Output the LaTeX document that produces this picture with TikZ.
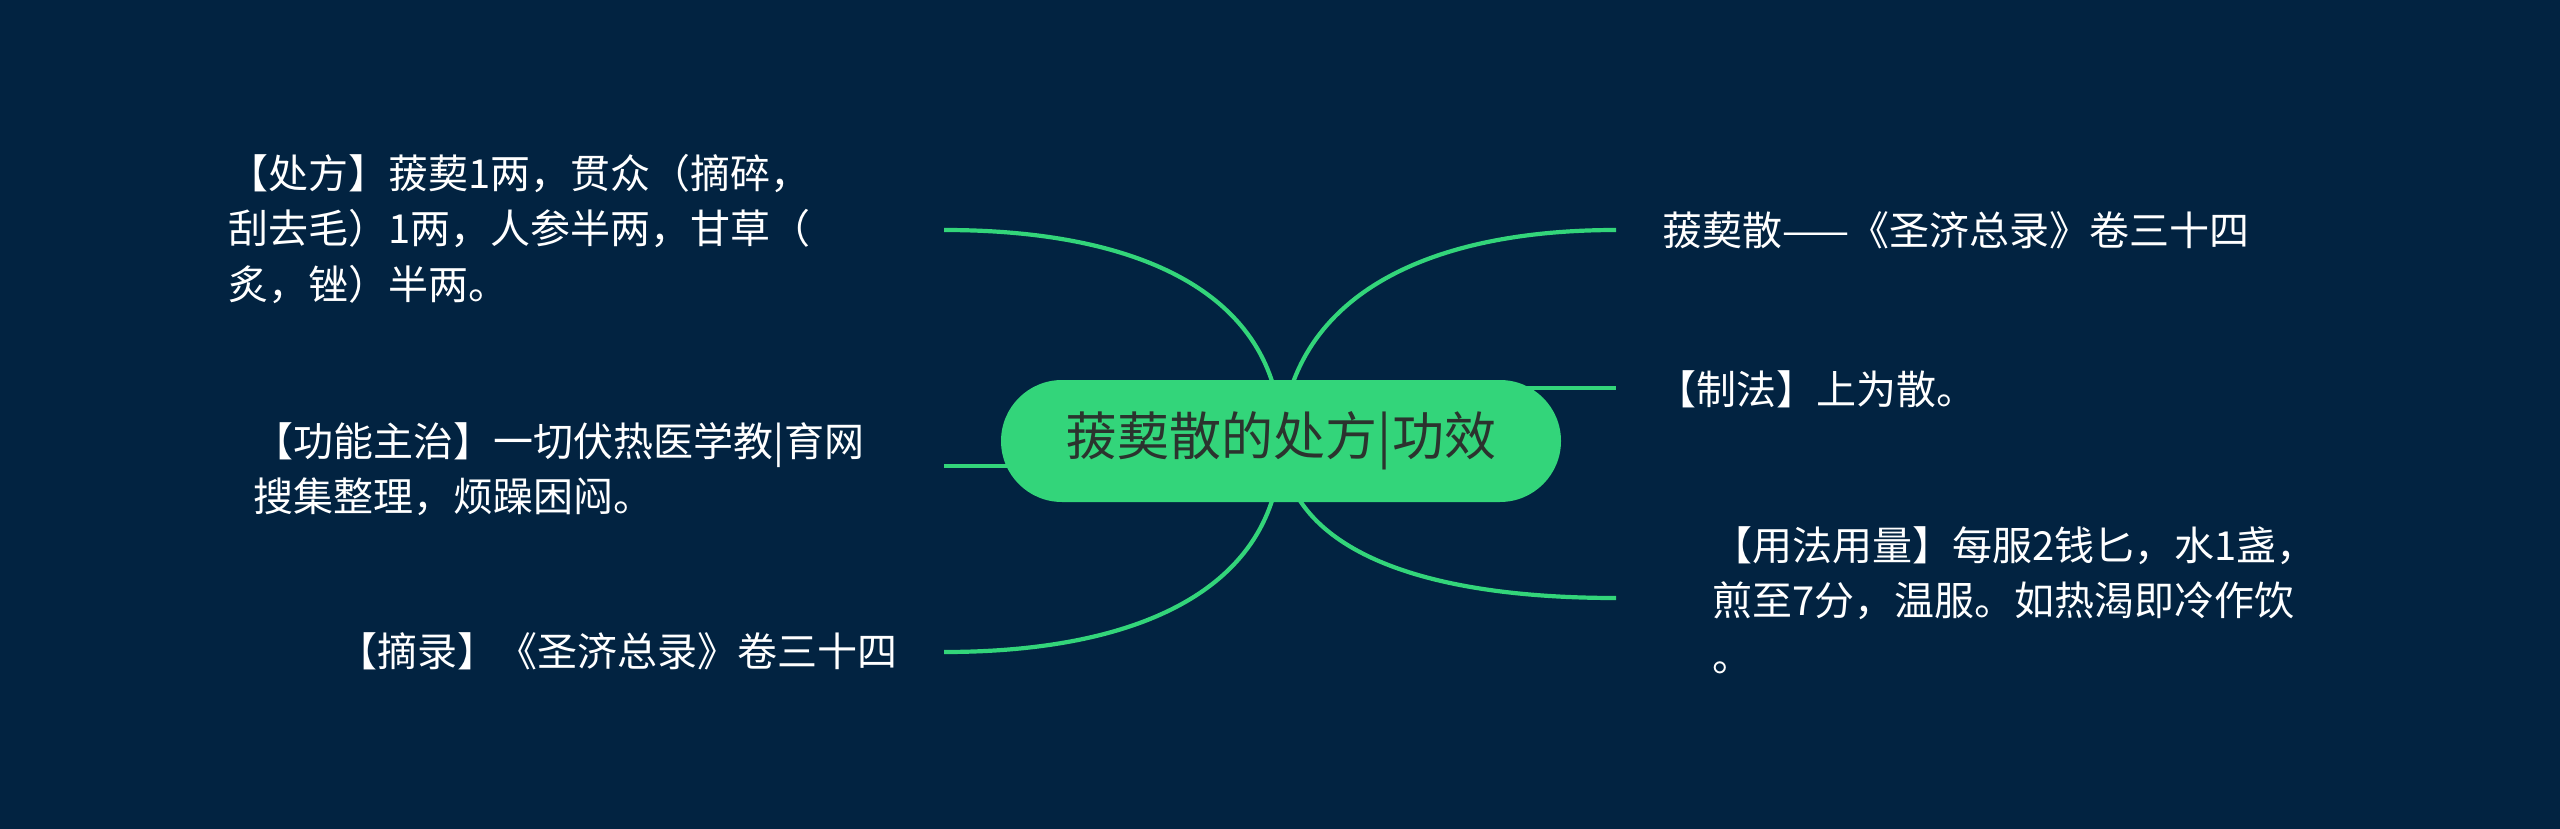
\documentclass[tikz,border=0pt]{standalone}
\usepackage{fontspec}
\setmainfont{Noto Sans CJK SC}
\usetikzlibrary{backgrounds}
\definecolor{bgc}{HTML}{022341}
\definecolor{grn}{HTML}{33D57A}
\definecolor{dk}{HTML}{2B332E}
\begin{document}
\begin{tikzpicture}[x=1pt,y=-1pt,
  conn/.style={draw=grn, line width=4.2pt},
  leaf/.style={text=white, font=\fontsize{40}{55.5}\selectfont, align=left, inner sep=0pt, anchor=west},
  rootbox/.style={fill=grn, rounded corners=61pt, minimum width=560pt, minimum height=122pt, inner sep=0pt, text=dk, font=\fontsize{52}{60}\selectfont}]
\useasboundingbox (0,0) rectangle (2560,829);
\node[rootbox] (root) at (1281,441) {菝葜散的处方|功效};
% leaves
\node[leaf] (l1) at (228,229) {【处方】菝葜1两，贯众（摘碎，\\刮去毛）1两，人参半两，甘草（\\炙，锉）半两。};
\node[leaf] (l2) at (253,469) {【功能主治】一切伏热医学教|育网\\搜集整理，烦躁困闷。};
\node[leaf] (l3) at (337,651) {【摘录】《圣济总录》卷三十四};
\node[leaf] (r1) at (1662,230) {菝葜散——《圣济总录》卷三十四};
\node[leaf] (r2) at (1656,389) {【制法】上为散。};
\node[leaf] (r3) at (1712,600) {【用法用量】每服2钱匕，水1盏，\\煎至7分，温服。如热渴即冷作饮\\。};
% connector ends
\coordinate (e1) at (944,230);
\coordinate (e2) at (944,466);
\coordinate (e3) at (944,652);
\coordinate (f1) at (1616,230);
\coordinate (f2) at (1616,388);
\coordinate (f3) at (1616,598);
\begin{scope}[on background layer]
\fill[bgc] (0,0) rectangle (2560,829);
\draw[conn] (root.center) .. controls (1281,300) and (1150,230) .. (e1);
\draw[conn] (root.center) -- (root.center |- e2) -- (e2);
\draw[conn] (root.center) .. controls (1281,582) and (1150,652) .. (e3);
\draw[conn] (root.center) .. controls (1290,300) and (1420,230) .. (f1);
\draw[conn] (root.center) -- (root.center |- f2) -- (f2);
\draw[conn] (root.center) .. controls (1285,540) and (1400,598) .. (f3);
\end{scope}
\end{tikzpicture}
\end{document}
